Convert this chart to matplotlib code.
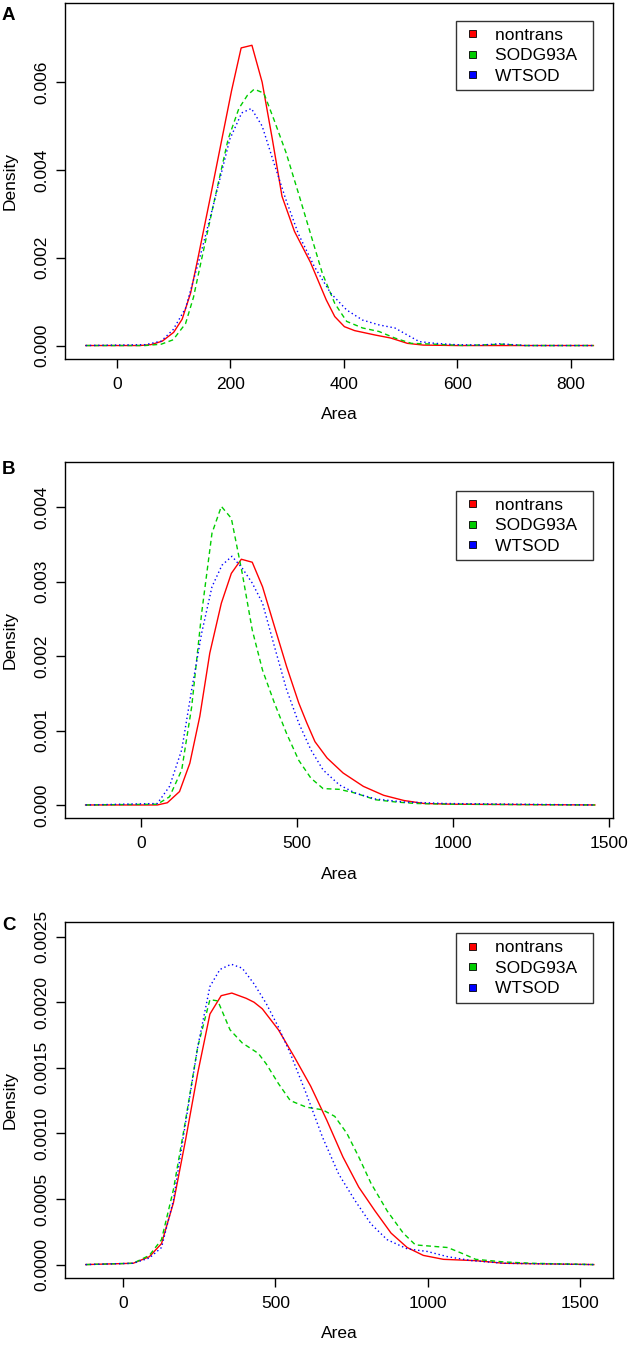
import matplotlib
matplotlib.use('agg')
import matplotlib.pyplot as plt
from matplotlib.patches import Patch, Rectangle
from matplotlib.legend_handler import HandlerPatch

plt.rcParams['font.family'] = ['Liberation Sans', 'DejaVu Sans']

# Panel A data
a_red_x = [-55, 40, 60, 80, 100, 115, 130, 143, 165, 185, 202, 219, 238, 256, 274, 291, 313, 341, 369, 384, 401, 419, 455, 483, 512, 540, 600, 840]
a_red_y = [0, 0, 0.00002, 0.0001, 0.0003, 0.0006, 0.0012, 0.002, 0.0034, 0.0047, 0.0058, 0.00678, 0.00684, 0.0060, 0.0047, 0.0034, 0.0026, 0.0019, 0.00104, 0.00066, 0.00043, 0.00034, 0.00024, 0.00017, 0.00005, 0.00001, 0, 0]
a_green_x = [-55, 50, 78, 99, 121, 135, 149, 170, 196, 215, 230, 242, 259, 277, 298, 320, 341, 362, 384, 405, 433, 462, 490, 519, 561, 611, 680, 720, 840]
a_green_y = [0, 0, 0.00003, 0.00013, 0.0005, 0.0011, 0.00195, 0.0032, 0.0047, 0.0054, 0.0057, 0.00584, 0.00575, 0.00514, 0.0044, 0.00347, 0.00256, 0.00165, 0.00096, 0.00055, 0.0004, 0.00032, 0.00017, 0.00005, 0.00003, 0, 0.00003, 0, 0]
a_blue_x = [-55, 50, 78, 99, 121, 146, 170, 199, 220, 237, 256, 277, 298, 320, 348, 377, 405, 433, 462, 490, 512, 533, 561, 597, 640, 675, 720, 840]
a_blue_y = [0, 0.00002, 0.0001, 0.00036, 0.00085, 0.002, 0.0032, 0.0047, 0.0053, 0.0054, 0.005, 0.00415, 0.00332, 0.00254, 0.0018, 0.00119, 0.00081, 0.00058, 0.00047, 0.0004, 0.00024, 0.00009, 0.00005, 0.00002, 0.00001, 0.00004, 0, 0]

# Panel B data
b_red_x = [-177, 53, 85, 124, 157, 189, 221, 258, 290, 322, 357, 390, 428, 467, 506, 532, 558, 597, 648, 713, 778, 843, 907, 1000, 1455]
b_red_y = [0, 0, 0.00003, 0.00018, 0.00056, 0.00119, 0.00204, 0.00271, 0.00311, 0.0033, 0.00326, 0.00293, 0.0024, 0.00186, 0.00137, 0.0011, 0.00085, 0.00063, 0.00043, 0.00025, 0.00013, 0.00006, 0.00002, 0.00001, 0]
b_green_x = [-177, 53, 92, 131, 163, 195, 228, 258, 290, 325, 357, 390, 428, 467, 506, 545, 584, 636, 687, 752, 817, 881, 1000, 1455]
b_green_y = [0, 0.00001, 0.00011, 0.00047, 0.00132, 0.00258, 0.00365, 0.00401, 0.00385, 0.00311, 0.00235, 0.00181, 0.00137, 0.00096, 0.0006, 0.00036, 0.00022, 0.00021, 0.00016, 0.00007, 0.00004, 0.00002, 0.00001, 0]
b_blue_x = [-177, 53, 92, 131, 163, 195, 228, 260, 292, 325, 357, 390, 428, 467, 506, 545, 584, 636, 687, 752, 843, 972, 1455]
b_blue_y = [0, 0.00002, 0.00025, 0.00074, 0.00155, 0.00231, 0.00293, 0.00322, 0.00334, 0.00318, 0.00298, 0.00271, 0.00213, 0.00155, 0.0011, 0.00074, 0.00047, 0.00027, 0.00016, 0.00008, 0.00004, 0.00002, 0]

# Panel C data
c_red_x = [-123, 33, 86, 126, 165, 205, 245, 285, 322, 357, 404, 430, 457, 510, 563, 616, 669, 722, 774, 827, 880, 933, 986, 1052, 1158, 1251, 1546]
c_red_y = [0, 0.00001, 0.00006, 0.00016, 0.00047, 0.00095, 0.00146, 0.00191, 0.00205, 0.00207, 0.00203, 0.002, 0.00195, 0.00179, 0.00158, 0.00136, 0.0011, 0.00082, 0.00059, 0.00041, 0.00024, 0.00013, 0.00007, 0.00004, 0.00003, 0.00001, 0]
c_green_x = [-123, 33, 86, 126, 165, 205, 245, 285, 311, 351, 391, 444, 470, 510, 549, 602, 655, 695, 735, 774, 814, 867, 920, 960, 1013, 1066, 1119, 1158, 1251, 1344, 1546]
c_green_y = [0, 0.00001, 0.00007, 0.00019, 0.00057, 0.0011, 0.00166, 0.00202, 0.00201, 0.00179, 0.00169, 0.00161, 0.00153, 0.00138, 0.00125, 0.0012, 0.00118, 0.00113, 0.001, 0.00082, 0.00062, 0.00041, 0.00024, 0.00015, 0.00014, 0.00013, 0.00008, 0.00004, 0.00002, 0.00001, 0]
c_blue_x = [-123, 33, 86, 126, 165, 205, 245, 285, 318, 355, 391, 430, 470, 510, 549, 602, 655, 708, 761, 814, 867, 933, 999, 1066, 1145, 1251, 1546]
c_blue_y = [0, 0.00001, 0.00005, 0.00013, 0.00049, 0.00108, 0.00166, 0.00212, 0.00225, 0.00229, 0.00226, 0.00214, 0.00199, 0.00181, 0.00161, 0.0013, 0.00097, 0.00069, 0.00049, 0.00031, 0.00019, 0.00012, 0.0001, 0.00006, 0.00003, 0.00001, 0]

groups = ['nontrans', 'SODG93A', 'WTSOD']
colors = ['#FF0000', '#00CD00', '#0000FF']

a_xticks = [0, 200, 400, 600, 800]
a_yticks = [0, 0.002, 0.004, 0.006]
a_ylabels = ['0.000', '0.002', '0.004', '0.006']
b_xticks = [0, 500, 1000, 1500]
b_yticks = [0, 0.001, 0.002, 0.003, 0.004]
b_ylabels = ['0.000', '0.001', '0.002', '0.003', '0.004']
c_xticks = [0, 500, 1000, 1500]
c_yticks = [0, 0.0005, 0.001, 0.0015, 0.002, 0.0025]
c_ylabels = ['0.0000', '0.0005', '0.0010', '0.0015', '0.0020', '0.0025']

fig = plt.figure(figsize=(6.31, 13.53), dpi=100)
W, H = 631, 1353


def make_axes(top, bottom):
    return fig.add_axes([65.3 / W, 1 - bottom / H, (612.7 - 65.3) / W, (bottom - top) / H])


# small filled square sitting a bit in from the left of the handle box
def square_patch(legend, orig_handle, xdescent, ydescent, width, height, fontsize):
    s = 5.0
    return Rectangle((-xdescent + 4.4, -ydescent + (height - s) / 2), s, s)


panels = [
    (make_axes(2.7, 358.7), 'A', 15, 18,
     [(a_red_x, a_red_y), (a_green_x, a_green_y), (a_blue_x, a_blue_y)],
     (-91, 874), (-0.0003, 0.00781), a_xticks, a_yticks, a_ylabels),
    (make_axes(461.7, 818), 'B', 469.5, 29,
     [(b_red_x, b_red_y), (b_green_x, b_green_y), (b_blue_x, b_blue_y)],
     (-242, 1512), (-0.000175, 0.00461), b_xticks, b_yticks, b_ylabels),
    (make_axes(921.7, 1277.7), 'C', 925, 11.6,
     [(c_red_x, c_red_y), (c_green_x, c_green_y), (c_blue_x, c_blue_y)],
     (-190, 1608), (-0.0001, 0.002614), c_xticks, c_yticks, c_ylabels),
]

styles = [dict(linestyle='-'), dict(linestyle=(0, (3.5, 2.5))), dict(linestyle=(0, (1, 2)))]

for ax, letter, ly, legtop, series, xl, yl, xt, yt, ytl in panels:
    for (x, y), c, st in zip(series, colors, styles):
        ax.plot(x, y, color=c, linewidth=1.0, **st)
    ax.set_xlim(*xl)
    ax.set_ylim(*yl)
    ax.set_xticks(xt)
    ax.set_xticklabels([str(v) for v in xt])
    ax.set_yticks(yt)
    ax.set_yticklabels(ytl, rotation=90, va='center')
    ax.tick_params(length=6.2, width=1.0, labelsize=12.5, pad=5)
    ax.tick_params(axis='x', pad=7)
    for s in ax.spines.values():
        s.set_linewidth(1.0)
    ax.set_xlabel('Area', fontsize=12.5, labelpad=11)
    ax.set_ylabel('Density', fontsize=12.5, labelpad=12)

    handles = [Patch(facecolor=c, edgecolor='black', linewidth=0.6) for c in colors]
    frac = 1 - legtop / ((ax.get_position().height) * H)
    leg = ax.legend(handles, [g + '  ' for g in groups], loc='upper right',
                    bbox_to_anchor=((593.3 - 65.3) / 547.4, frac),
                    handler_map={Patch: HandlerPatch(patch_func=square_patch)},
                    fontsize=12.5, frameon=True, fancybox=False,
                    handlelength=0.8, handleheight=0.7, handletextpad=1.07,
                    labelspacing=0.3, borderpad=0.4, borderaxespad=0)
    leg.get_frame().set_edgecolor('black')
    leg.get_frame().set_linewidth(1.0)

    fig.text(2 / W, 1 - ly / H, letter, fontsize=13.5, fontweight='bold',
             ha='left', va='center')

fig.savefig('out.png', dpi=100, facecolor='white')
